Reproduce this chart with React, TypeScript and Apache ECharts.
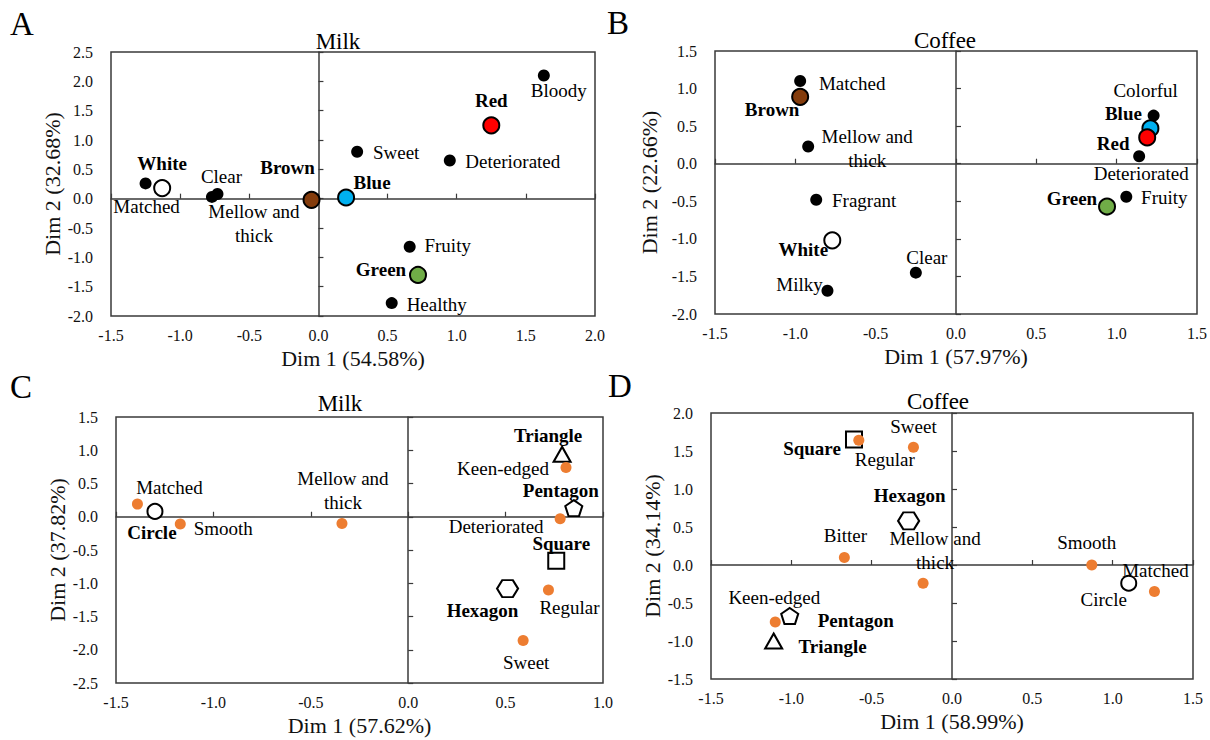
import React, { useEffect, useRef } from 'react';
import * as echarts from 'echarts';

const FONT = 'Liberation Serif, Times New Roman, serif';

// ---------- Panel A: Milk, colours vs. attributes ----------
const milkColorNames = ['White', 'Brown', 'Blue', 'Red', 'Green'];
const milkColorDim1 = [-1.13, -0.05, 0.2, 1.25, 0.72];
const milkColorDim2 = [0.18, -0.02, 0.02, 1.25, -1.3];
const milkColorAttrNames = ['Matched', 'Clear', 'Mellow and thick', 'Sweet', 'Deteriorated', 'Bloody', 'Fruity', 'Healthy'];
const milkColorAttrDim1 = [-1.25, -0.73, -0.77, 0.28, 0.95, 1.63, 0.66, 0.53];
const milkColorAttrDim2 = [0.26, 0.08, 0.03, 0.8, 0.65, 2.1, -0.82, -1.78];

// ---------- Panel B: Coffee, colours vs. attributes ----------
const coffeeColorNames = ['White', 'Brown', 'Green', 'Blue', 'Red'];
const coffeeColorDim1 = [-0.77, -0.97, 0.94, 1.21, 1.19];
const coffeeColorDim2 = [-1.02, 0.89, -0.57, 0.47, 0.35];
const coffeeColorAttrNames = ['Matched', 'Mellow and thick', 'Fragrant', 'Milky', 'Clear', 'Colorful', 'Deteriorated', 'Fruity'];
const coffeeColorAttrDim1 = [-0.97, -0.92, -0.87, -0.8, -0.25, 1.23, 1.14, 1.06];
const coffeeColorAttrDim2 = [1.1, 0.23, -0.48, -1.69, -1.45, 0.64, 0.1, -0.44];

// ---------- Panel C: Milk, shapes vs. attributes ----------
const milkShapeNames = ['Circle', 'Triangle', 'Pentagon', 'Square', 'Hexagon'];
const milkShapeDim1 = [-1.3, 0.79, 0.85, 0.76, 0.51];
const milkShapeDim2 = [0.08, 0.94, 0.13, -0.66, -1.08];
const milkShapeAttrNames = ['Matched', 'Smooth', 'Mellow and thick', 'Keen-edged', 'Deteriorated', 'Regular', 'Sweet'];
const milkShapeAttrDim1 = [-1.39, -1.17, -0.34, 0.81, 0.78, 0.72, 0.59];
const milkShapeAttrDim2 = [0.19, -0.11, -0.1, 0.74, -0.03, -1.1, -1.86];

// ---------- Panel D: Coffee, shapes vs. attributes ----------
const coffeeShapeNames = ['Square', 'Hexagon', 'Pentagon', 'Triangle', 'Circle'];
const coffeeShapeDim1 = [-0.61, -0.27, -1.01, -1.11, 1.1];
const coffeeShapeDim2 = [1.65, 0.58, -0.67, -1.0, -0.24];
const coffeeShapeAttrNames = ['Regular', 'Sweet', 'Bitter', 'Mellow and thick', 'Keen-edged', 'Smooth', 'Matched'];
const coffeeShapeAttrDim1 = [-0.58, -0.24, -0.67, -0.18, -1.1, 0.87, 1.26];
const coffeeShapeAttrDim2 = [1.64, 1.55, 0.1, -0.24, -0.75, 0.0, -0.35];

// axis texts
const axisNamesA = ['Dim 1 (54.58%)', 'Dim 2 (32.68%)'];
const axisNamesB = ['Dim 1 (57.97%)', 'Dim 2 (22.66%)'];
const axisNamesC = ['Dim 1 (57.62%)', 'Dim 2 (37.82%)'];
const axisNamesD = ['Dim 1 (58.99%)', 'Dim 2 (34.14%)'];
const panelTitles = ['Milk', 'Coffee', 'Milk', 'Coffee'];
const panelLetters = ['A', 'B', 'C', 'D'];

// ---------- styles / layout (not data) ----------
const colorFill: Record<string, string> = {
  White: '#FFFFFF',
  Brown: '#843C0C',
  Blue: '#00B0F0',
  Red: '#FF0000',
  Green: '#70AD47',
};

const HEX = 'path://M0,50 L25,6 L75,6 L100,50 L75,94 L25,94 Z';
const PENT = 'path://M50,0 L100,37 L81,100 L19,100 L0,37 Z';
const shapeSymbol: Record<string, { symbol: string; size: [number, number] }> = {
  Circle: { symbol: 'circle', size: [15, 15] },
  Triangle: { symbol: 'triangle', size: [17, 15] },
  Square: { symbol: 'rect', size: [16, 16] },
  Pentagon: { symbol: PENT, size: [17, 16] },
  Hexagon: { symbol: HEX, size: [21, 17] },
};

const labelOffsetA: Record<string, [number, number]> = {
  Matched: [1, 23], White: [0, -25], Clear: [4, -17], 'Mellow and thick': [42, 27],
  Brown: [-24, -32], Blue: [26, -15], Sweet: [39, 1], Deteriorated: [63, 1],
  Red: [0, -25], Bloody: [15, 15], Fruity: [38, -1], Green: [-37, -5], Healthy: [45, 1],
};
const labelOffsetB: Record<string, [number, number]> = {
  Matched: [52, 2], Brown: [-28, 13], 'Mellow and thick': [59, 2], Fragrant: [48, 1],
  White: [-29, 9], Milky: [-28, -6], Clear: [11, -15], Colorful: [-8, -25],
  Blue: [-27, -15], Red: [-34, 6], Deteriorated: [2, 17], Fruity: [38, 1], Green: [-35, -8],
};
const labelOffsetC: Record<string, [number, number]> = {
  Matched: [32, -17], Circle: [-3, 21], Smooth: [43, 4], 'Mellow and thick': [1, -33],
  Triangle: [-14, -19], 'Keen-edged': [-63, 1], Pentagon: [-13, -18], Deteriorated: [-64, 8],
  Square: [5, -17], Hexagon: [-25, 22], Regular: [21, 18], Sweet: [3, 22],
};
const labelOffsetD: Record<string, [number, number]> = {
  Square: [-42, 9], Regular: [26, 19], Sweet: [0, -21], Hexagon: [1, -25], Bitter: [1, -22],
  'Mellow and thick': [12, -33], 'Keen-edged': [-1, -25], Pentagon: [66, 5], Triangle: [59, 5],
  Smooth: [-5, -23], Circle: [-25, 16], Matched: [1, -21],
};

type Panel = {
  kind: 'color' | 'shape';
  grid: [number, number, number, number];
  xRange: [number, number];
  yRange: [number, number];
  names: string[];
  groupNames: string[]; groupX: number[]; groupY: number[];
  attrNames: string[]; attrX: number[]; attrY: number[];
  offsets: Record<string, [number, number]>;
  xNameGap: number; yNameGap: number;
  titlePos: [number, number]; letterPos: [number, number];
  plainGroupLabels: string[];
};

const panels: Panel[] = [
  {
    kind: 'color', grid: [111, 52, 484, 264], xRange: [-1.5, 2.0], yRange: [-2.0, 2.5], names: axisNamesA,
    groupNames: milkColorNames, groupX: milkColorDim1, groupY: milkColorDim2,
    attrNames: milkColorAttrNames, attrX: milkColorAttrDim1, attrY: milkColorAttrDim2,
    offsets: labelOffsetA, xNameGap: 31, yNameGap: 48, titlePos: [338, 41], letterPos: [22, 24], plainGroupLabels: [],
  },
  {
    kind: 'color', grid: [715, 51, 482, 263], xRange: [-1.5, 1.5], yRange: [-2.0, 1.5], names: axisNamesB,
    groupNames: coffeeColorNames, groupX: coffeeColorDim1, groupY: coffeeColorDim2,
    attrNames: coffeeColorAttrNames, attrX: coffeeColorAttrDim1, attrY: coffeeColorAttrDim2,
    offsets: labelOffsetB, xNameGap: 31, yNameGap: 55, titlePos: [945, 40], letterPos: [618, 23], plainGroupLabels: [],
  },
  {
    kind: 'shape', grid: [116, 417, 487, 266], xRange: [-1.5, 1.0], yRange: [-2.5, 1.5], names: axisNamesC,
    groupNames: milkShapeNames, groupX: milkShapeDim1, groupY: milkShapeDim2,
    attrNames: milkShapeAttrNames, attrX: milkShapeAttrDim1, attrY: milkShapeAttrDim2,
    offsets: labelOffsetC, xNameGap: 31, yNameGap: 47, titlePos: [340, 403], letterPos: [21, 387], plainGroupLabels: [],
  },
  {
    kind: 'shape', grid: [711, 413, 482, 266], xRange: [-1.5, 1.5], yRange: [-1.5, 2.0], names: axisNamesD,
    groupNames: coffeeShapeNames, groupX: coffeeShapeDim1, groupY: coffeeShapeDim2,
    attrNames: coffeeShapeAttrNames, attrX: coffeeShapeAttrDim1, attrY: coffeeShapeAttrDim2,
    offsets: labelOffsetD, xNameGap: 31, yNameGap: 48, titlePos: [938, 401], letterPos: [620, 386], plainGroupLabels: ['Circle'],
  },
];

const display = (n: string) => (n === 'Mellow and thick' ? 'Mellow and\nthick' : n);
const LINE = '#3a3a3a';
const TEXT = '#111';

function buildOption() {
  const grid: any[] = [];
  const xAxis: any[] = [];
  const yAxis: any[] = [];
  const series: any[] = [];
  const graphic: any[] = [];

  panels.forEach((p, i) => {
    grid.push({
      left: p.grid[0], top: p.grid[1], width: p.grid[2], height: p.grid[3],
      show: true, borderColor: LINE, borderWidth: 1.5, backgroundColor: 'transparent',
    });
    const fmt = (v: number) => v.toFixed(1);
    const xc = { type: 'value', gridIndex: i, min: p.xRange[0], max: p.xRange[1], interval: 0.5, splitLine: { show: false } };
    const yc = { type: 'value', gridIndex: i, min: p.yRange[0], max: p.yRange[1], interval: 0.5, splitLine: { show: false } };
    // label axes (outer)
    xAxis.push({
      ...xc, position: 'bottom',
      axisLine: { show: false, onZero: false }, axisTick: { show: false },
      axisLabel: { formatter: fmt, fontSize: 16, color: TEXT, margin: 11, fontFamily: FONT },
      name: p.names[0], nameLocation: 'middle', nameGap: p.xNameGap,
      nameTextStyle: { fontSize: 22, color: TEXT, fontFamily: FONT },
    });
    yAxis.push({
      ...yc, position: 'left',
      axisLine: { show: false, onZero: false }, axisTick: { show: false },
      axisLabel: { formatter: fmt, fontSize: 16, color: TEXT, margin: 18, fontFamily: FONT },
      name: p.names[1], nameLocation: 'middle', nameGap: p.yNameGap,
      nameTextStyle: { fontSize: 22, color: TEXT, fontFamily: FONT },
    });
    // zero axes (cross lines with inner ticks)
    xAxis.push({
      ...xc, position: 'bottom',
      axisLine: { show: true, onZero: true, onZeroAxisIndex: 2 * i, lineStyle: { color: LINE, width: 1.5 } },
      axisTick: { show: true, inside: true, length: 5, lineStyle: { color: LINE, width: 1.2 } },
      axisLabel: { show: false },
    });
    yAxis.push({
      ...yc, position: 'left',
      axisLine: { show: true, onZero: true, onZeroAxisIndex: 2 * i, lineStyle: { color: LINE, width: 1.5 } },
      axisTick: { show: true, inside: true, length: 5, lineStyle: { color: LINE, width: 1.2 } },
      axisLabel: { show: false },
    });

    const lab = (name: string, bold: boolean) => ({
      show: true, position: 'inside', offset: p.offsets[name] || [0, 0],
      formatter: display(name), fontSize: 19, lineHeight: 24, fontFamily: FONT,
      fontWeight: bold ? 'bold' : 'normal', color: '#000', opacity: 1,
    });

    const attrData = p.attrNames.map((n, k) => ({ name: n, value: [p.attrX[k], p.attrY[k]], label: lab(n, false) }));
    const groupData = p.groupNames.map((n, k) => {
      const bold = p.plainGroupLabels.indexOf(n) < 0;
      if (p.kind === 'color') {
        return {
          name: n, value: [p.groupX[k], p.groupY[k]], symbol: 'circle', symbolSize: 16,
          itemStyle: { color: colorFill[n], borderColor: '#000', borderWidth: 2, opacity: 1 }, label: lab(n, bold),
        };
      }
      const s = shapeSymbol[n];
      return {
        name: n, value: [p.groupX[k], p.groupY[k]], symbol: s.symbol, symbolSize: s.size,
        itemStyle: { color: '#fff', borderColor: '#000', borderWidth: 2, opacity: 1 }, label: lab(n, bold),
      };
    });

    const attrSeries = {
      type: 'scatter', name: p.kind === 'color' ? 'Attributes' : 'Attributes ',
      xAxisIndex: 2 * i, yAxisIndex: 2 * i, data: attrData,
      symbol: 'circle', symbolSize: p.kind === 'color' ? 12 : 11,
      itemStyle: { color: p.kind === 'color' ? '#000' : '#ED7D31', opacity: 1 },
      emphasis: { disabled: true }, z: p.kind === 'color' ? 2 : 4,
    };
    const groupSeries = {
      type: 'scatter', name: p.kind === 'color' ? 'Colours' : 'Shapes',
      xAxisIndex: 2 * i, yAxisIndex: 2 * i, data: groupData,
      itemStyle: { opacity: 1 },
      emphasis: { disabled: true }, z: p.kind === 'color' ? 4 : 2,
    };
    series.push(attrSeries, groupSeries);

    graphic.push({
      type: 'text', x: p.titlePos[0], y: p.titlePos[1],
      style: { text: panelTitles[i], font: `23px ${FONT}`, fill: '#000', align: 'center', verticalAlign: 'middle' },
    });
    graphic.push({
      type: 'text', x: p.letterPos[0], y: p.letterPos[1],
      style: { text: panelLetters[i], font: `33px ${FONT}`, fill: '#000', align: 'center', verticalAlign: 'middle' },
    });
  });

  return {
    animation: false,
    backgroundColor: '#fff',
    textStyle: { fontFamily: FONT },
    grid, xAxis, yAxis, series, graphic,
  };
}

export default function App() {
  const ref = useRef<HTMLDivElement>(null);
  useEffect(() => {
    const chart = echarts.init(ref.current as HTMLDivElement, null, { renderer: 'svg' });
    chart.setOption(buildOption() as any);
    return () => chart.dispose();
  }, []);
  return (
    <div
      ref={ref}
      style={{ position: 'absolute', left: 0, top: 0, width: 1210, height: 740, background: '#fff' }}
    />
  );
}
